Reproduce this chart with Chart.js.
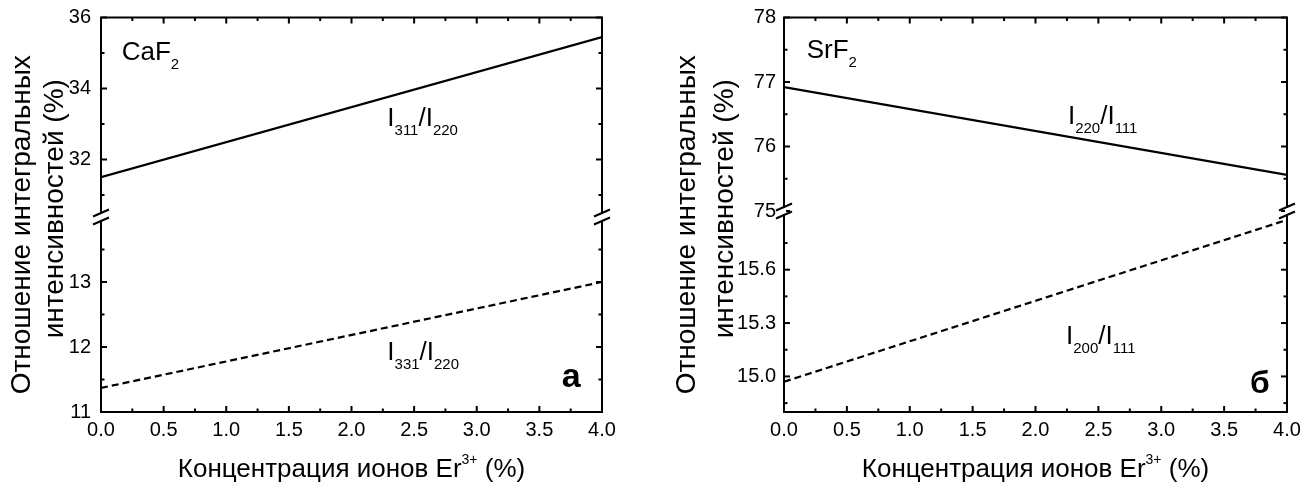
<!DOCTYPE html>
<html>
<head>
<meta charset="utf-8">
<script src="https://cdn.jsdelivr.net/npm/chart.js"></script>
<style>
  html, body { margin: 0; padding: 0; background: #fff; }
  .panel { position: absolute; top: 0; width: 658px; height: 483px; }
  #panelA { left: 0; }
  #panelB { left: 658px; }
</style>
</head>
<body>
<div class="panel" id="panelA"><canvas id="chartA" width="658" height="483"></canvas></div>
<div class="panel" id="panelB"><canvas id="chartB" width="658" height="483"></canvas></div>
<script>
/* ======================
   DATA
   ====================== */

// Er3+ concentration, %
const concentration = [0, 4];

// CaF2 integral intensity ratios, %
const caf2Ratio311 = [31.5, 35.45];
const caf2Ratio331 = [11.37, 13.0];

// SrF2 integral intensity ratios, %
const srf2Ratio220 = [76.92, 75.56];
const srf2Ratio200 = [14.97, 15.88];

// tick values
const xMajorTicks = [0, 0.5, 1, 1.5, 2, 2.5, 3, 3.5, 4];
const xMinorTicks = [0.25, 0.75, 1.25, 1.75, 2.25, 2.75, 3.25, 3.75];

const caf2UpperTicks = [32, 34, 36];
const caf2UpperMinor = [31, 33, 35];
const caf2LowerTicks = [11, 12, 13];
const caf2LowerMinor = [11.5, 12.5, 13.5];

const srf2UpperTicks = [75, 76, 77, 78];
const srf2UpperMinor = [75.5, 76.5, 77.5];
const srf2LowerTicks = [15.0, 15.3, 15.6];
const srf2LowerMinor = [14.85, 15.15, 15.45, 15.75];

const yTitle = ['Отношение интегральных', 'интенсивностей (%)'];
const xTitle = 'Концентрация ионов Er^{3+} (%)';

/* ======================
   HELPERS
   ====================== */

const FONT = '"Liberation Sans", Arial, sans-serif';

// split 'I_{311}/I_{220}' into plain / sub / sup runs
const parseRuns = (str) => str
    .split(/(_\{[^}]*\}|\^\{[^}]*\})/)
    .filter(s => s.length)
    .map(s => {
        if (s.startsWith('_{')) return { t: s.slice(2, -1), kind: 'sub' };
        if (s.startsWith('^{')) return { t: s.slice(2, -1), kind: 'sup' };
        return { t: s, kind: 'normal' };
    });

const drawRich = (ctx, str, x, y, size, align = 'left', bold = false) => {
    const runs = parseRuns(str);
    const sizeOf = r => r.kind === 'sub' ? Math.round(size * 0.58)
        : r.kind === 'sup' ? Math.round(size * 0.52) : size;
    const fontFor = r => `${bold ? 'bold ' : ''}${sizeOf(r)}px ${FONT}`;
    let total = 0;
    runs.forEach(r => {
        ctx.font = fontFor(r);
        r.w = ctx.measureText(r.t).width;
        total += r.w;
    });
    let cx = align === 'center' ? x - total / 2 : x;
    ctx.textAlign = 'left';
    ctx.textBaseline = 'alphabetic';
    runs.forEach(r => {
        ctx.font = fontFor(r);
        const dy = r.kind === 'sub' ? size * 0.36 : r.kind === 'sup' ? -size * 0.5 : 0;
        ctx.fillText(r.t, cx, y + dy);
        cx += r.w;
    });
};

const asTicks = values => values.map(v => ({ value: v }));

/* ======================
   FRAME / TICKS / BREAK / LABELS PLUGIN
   ====================== */

const framePlugin = {
    id: 'frame',
    afterDraw(chart) {
        const { ctx, chartArea: a, scales } = chart;
        const p = chart.options.plugins.frame;
        ctx.save();
        ctx.strokeStyle = '#000';
        ctx.fillStyle = '#000';
        ctx.lineWidth = 2;
        ctx.lineCap = 'butt';

        const line = (x1, y1, x2, y2) => {
            ctx.beginPath();
            ctx.moveTo(x1, y1);
            ctx.lineTo(x2, y2);
            ctx.stroke();
        };

        // x ticks, bottom and top, pointing inward
        const xTicks = (values, len) => values.forEach(v => {
            const px = scales.x.getPixelForValue(v);
            line(px, a.bottom, px, a.bottom - len);
            line(px, a.top, px, a.top + len);
        });
        xTicks(xMajorTicks, 6);
        xTicks(xMinorTicks, 3.5);

        // y ticks on both sides of each axis segment
        const yTicks = (scale, values, len) => values.forEach(v => {
            const py = scale.getPixelForValue(v);
            line(a.left, py, a.left + len, py);
            line(a.right, py, a.right - len, py);
        });
        yTicks(scales.yUpper, p.upperMajor, 6);
        yTicks(scales.yUpper, p.upperMinor, 3.5);
        yTicks(scales.yLower, p.lowerMajor, 6);
        yTicks(scales.yLower, p.lowerMinor, 3.5);

        ctx.strokeRect(a.left, a.top, a.right - a.left, a.bottom - a.top);

        // axis break marks where the two y segments meet
        const yb = scales.yUpper.bottom;
        [a.left, a.right].forEach(x => {
            ctx.fillStyle = '#fff';
            ctx.fillRect(x - 2, yb - 3, 4, 6);
            ctx.fillStyle = '#000';
            line(x - 8, yb - 0.5, x + 8, yb - 7.5);
            line(x - 8, yb + 7.5, x + 8, yb + 0.5);
        });

        // in-plot labels
        ctx.fillStyle = '#000';
        p.labels.forEach(l => {
            const scale = l.axis === 'upper' ? scales.yUpper : scales.yLower;
            drawRich(ctx, l.text, scales.x.getPixelForValue(l.x), scale.getPixelForValue(l.y), l.size, 'left', l.bold);
        });

        // axis titles
        const cy = (a.top + a.bottom) / 2;
        ctx.save();
        ctx.translate(0, cy);
        ctx.rotate(-Math.PI / 2);
        ctx.font = `28px ${FONT}`;
        ctx.textAlign = 'center';
        ctx.textBaseline = 'alphabetic';
        yTitle.forEach((t, i) => ctx.fillText(t, -p.yTitleShift[i], p.yTitleX[i]));
        ctx.restore();

        drawRich(ctx, xTitle, (a.left + a.right) / 2, 476.5, 26, 'center');
        ctx.restore();
    }
};

/* ======================
   PANELS
   ====================== */

const makePanel = (canvasId, cfg) => {
    const yScale = (range, ticks, weight, fmt) => ({
        type: 'linear',
        position: 'left',
        stack: 'ratio',
        stackWeight: weight,
        min: range[0],
        max: range[1],
        afterBuildTicks: s => { s.ticks = asTicks(ticks); },
        afterFit: s => {
            s.width = cfg.yAxisWidth;
            s.paddingTop = 0;
            s.paddingBottom = 0;
        },
        grid: { display: false, drawTicks: false },
        border: { display: false },
        ticks: {
            autoSkip: false,
            padding: cfg.tickPad,
            color: '#000',
            font: { family: FONT, size: 20 },
            callback: v => fmt(v)
        }
    });

    return new Chart(document.getElementById(canvasId), {
        type: 'line',
        data: {
            datasets: [
                {
                    data: cfg.upper.map((v, i) => ({ x: concentration[i], y: v })),
                    yAxisID: 'yUpper',
                    borderColor: '#000',
                    borderWidth: 2.2,
                    pointRadius: 0
                },
                {
                    data: cfg.lower.map((v, i) => ({ x: concentration[i], y: v })),
                    yAxisID: 'yLower',
                    borderColor: '#000',
                    borderWidth: 2.2,
                    borderDash: [7, 4],
                    pointRadius: 0
                }
            ]
        },
        options: {
            responsive: false,
            animation: false,
            devicePixelRatio: 1,
            layout: { padding: cfg.padding },
            plugins: {
                legend: { display: false },
                tooltip: { enabled: false },
                frame: {
                    upperMajor: cfg.upperTicks,
                    upperMinor: cfg.upperMinor,
                    lowerMajor: cfg.lowerTicks,
                    lowerMinor: cfg.lowerMinor,
                    labels: cfg.labels,
                    yTitleX: cfg.yTitleX,
                    yTitleShift: [10, -6]
                }
            },
            scales: {
                x: {
                    type: 'linear',
                    min: 0,
                    max: 4,
                    afterBuildTicks: s => { s.ticks = asTicks(xMajorTicks); },
                    afterFit: s => {
                        s.height = 40;
                        s.paddingLeft = 0;
                        s.paddingRight = 0;
                    },
                    grid: { display: false, drawTicks: false },
                    border: { display: false },
                    ticks: {
                        autoSkip: false,
                        maxRotation: 0,
                        padding: 6,
                        color: '#000',
                        font: { family: FONT, size: 20 },
                        callback: v => v.toFixed(1)
                    }
                },
                // left-hand stacks are laid out last-first, so the lower segment is listed first
                yLower: yScale(cfg.lowerRange, cfg.lowerTicks, cfg.lowerWeight, cfg.lowerFmt),
                yUpper: yScale(cfg.upperRange, cfg.upperTicks, cfg.upperWeight, cfg.upperFmt)
            }
        },
        plugins: [framePlugin]
    });
};

makePanel('chartA', {
    upper: caf2Ratio311,
    lower: caf2Ratio331,
    upperRange: [30.38, 36],
    lowerRange: [11, 14],
    upperWeight: 199.5,
    lowerWeight: 195,
    upperTicks: caf2UpperTicks,
    upperMinor: caf2UpperMinor,
    lowerTicks: caf2LowerTicks,
    lowerMinor: caf2LowerMinor,
    upperFmt: v => String(v),
    lowerFmt: v => String(v),
    yAxisWidth: 40,
    tickPad: 10,
    padding: { left: 61, top: 17.5, right: 56, bottom: 31 },
    yTitleX: [30, 63],
    labels: [
        { text: 'CaF_{2}', x: 0.165, y: 34.8, axis: 'upper', size: 26 },
        { text: 'I_{311}/I_{220}', x: 2.286, y: 32.94, axis: 'upper', size: 26 },
        { text: 'I_{331}/I_{220}', x: 2.286, y: 11.8, axis: 'lower', size: 26 },
        { text: 'а', x: 3.678, y: 11.38, axis: 'lower', size: 34, bold: true }
    ]
});

makePanel('chartB', {
    upper: srf2Ratio220,
    lower: srf2Ratio200,
    upperRange: [75, 78],
    lowerRange: [14.8, 15.93],
    upperWeight: 193.5,
    lowerWeight: 201,
    upperTicks: srf2UpperTicks,
    upperMinor: srf2UpperMinor,
    lowerTicks: srf2LowerTicks,
    lowerMinor: srf2LowerMinor,
    upperFmt: v => String(v),
    lowerFmt: v => v.toFixed(1),
    yAxisWidth: 50,
    tickPad: 8,
    padding: { left: 76, top: 17.5, right: 29, bottom: 31 },
    yTitleX: [37, 75],
    labels: [
        { text: 'SrF_{2}', x: 0.18, y: 77.37, axis: 'upper', size: 26 },
        { text: 'I_{220}/I_{111}', x: 2.258, y: 76.35, axis: 'upper', size: 26 },
        { text: 'I_{200}/I_{111}', x: 2.243, y: 15.185, axis: 'lower', size: 26 },
        { text: 'б', x: 3.706, y: 14.905, axis: 'lower', size: 32, bold: true }
    ]
});
</script>
</body>
</html>
